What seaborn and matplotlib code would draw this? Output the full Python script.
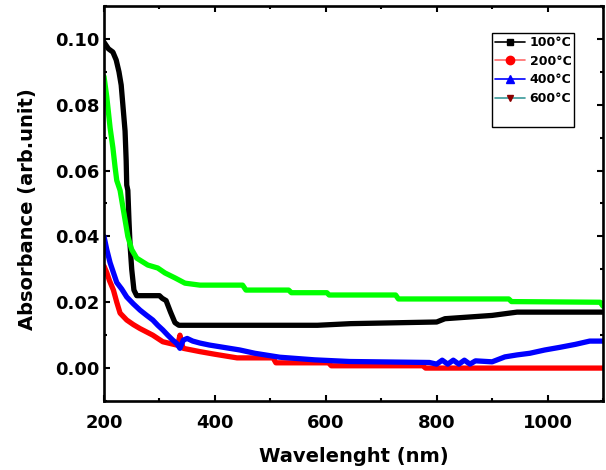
import matplotlib
matplotlib.use("Agg")
import matplotlib.pyplot as plt
from matplotlib.lines import Line2D
from matplotlib.ticker import MultipleLocator, FormatStrFormatter
import seaborn as sns
import pandas as pd

# ---- data ----
labels = ["100°C", "200°C", "400°C", "600°C"]

x100 = [200, 208, 216, 222, 227, 231, 234, 238, 240, 241, 243, 245, 247, 250, 254, 259,
        300, 305, 312, 320, 328, 335, 585, 645, 800, 815, 900, 945, 1100]
y100 = [0.099, 0.097, 0.096, 0.0936, 0.090, 0.086, 0.080, 0.072, 0.063, 0.0556, 0.054, 0.045,
        0.0374, 0.030, 0.0237, 0.022, 0.022, 0.0212, 0.0205, 0.017, 0.0138, 0.013, 0.0130,
        0.0135, 0.0140, 0.0150, 0.0160, 0.0170, 0.0170]

x200 = [200, 205, 210, 217, 223, 229, 241, 253, 265, 288, 306, 331, 335, 337, 340, 343, 373,
        400, 440, 505, 510, 605, 610, 775, 780, 1100]
y200 = [0.031, 0.029, 0.0265, 0.0237, 0.020, 0.0167, 0.0146, 0.0132, 0.012, 0.010, 0.008,
        0.007, 0.0085, 0.0100, 0.0075, 0.006, 0.005, 0.0042, 0.0031, 0.0031, 0.0016, 0.0016,
        0.0007, 0.0007, 0.0, 0.0]

x400 = [200, 205, 211, 217, 223, 232, 241, 253, 265, 277, 288, 297, 306, 315, 324, 331, 337,
        343, 350, 360, 373, 390, 445, 472, 517, 580, 643, 787, 800, 810, 820, 830, 840, 850,
        860, 870, 900, 923, 945, 968, 995, 1022, 1050, 1076, 1100]
y400 = [0.040, 0.036, 0.032, 0.029, 0.026, 0.024, 0.0216, 0.0195, 0.0176, 0.016, 0.0146,
        0.013, 0.0116, 0.010, 0.0085, 0.0075, 0.006, 0.0085, 0.009, 0.0082, 0.0076, 0.007,
        0.0055, 0.0045, 0.0033, 0.0025, 0.002, 0.0017, 0.0012, 0.0024, 0.0012, 0.0024, 0.0012,
        0.0024, 0.0012, 0.0022, 0.0019, 0.0034, 0.004, 0.0045, 0.0055, 0.0063, 0.0072, 0.0082,
        0.0082]

x600 = [200, 205, 211, 216, 220, 223, 229, 236, 243, 250, 259, 279, 297, 310, 328, 346, 373,
        450, 456, 533, 538, 602, 606, 726, 731, 930, 935, 1095, 1100]
y600 = [0.0886, 0.0824, 0.073, 0.067, 0.061, 0.057, 0.054, 0.047, 0.040, 0.036, 0.0334,
        0.0313, 0.0304, 0.0289, 0.0274, 0.0258, 0.0252, 0.0252, 0.0237, 0.0237, 0.0229,
        0.0229, 0.0222, 0.0222, 0.021, 0.021, 0.0202, 0.0200, 0.0188]

series_x = [x100, x200, x400, x600]
series_y = [y100, y200, y400, y600]
line_colors = ["#000000", "#ff0000", "#0000ff", "#00ff00"]

# legend styling (as drawn in the reference legend)
leg_line_colors = ["#000000", "#ff6b6b", "#0000ff", "#3a9a9a"]
leg_marker_colors = ["#000000", "#ff0000", "#0000ff", "#8b0000"]
leg_markers = ["s", "o", "^", "v"]
leg_marker_sizes = [5, 6, 6, 4]

# ---- styling ----
sns.set_style("ticks")
plt.rcParams["font.family"] = ["DejaVu Sans"]
plt.rcParams["font.weight"] = "bold"
plt.rcParams["text.color"] = "black"
plt.rcParams["axes.labelcolor"] = "black"
plt.rcParams["xtick.color"] = "black"
plt.rcParams["ytick.color"] = "black"

fig = plt.figure(figsize=(6.06, 4.70), dpi=100)
ax = fig.add_axes([104 / 606, 1 - 401 / 470, 499 / 606, 395 / 470])

for lab, xs, ys, col in zip(labels, series_x, series_y, line_colors):
    df = pd.DataFrame({"Wavelength": xs, "Absorbance": ys})
    sns.lineplot(data=df, x="Wavelength", y="Absorbance", color=col, lw=3.8,
                 estimator=None, sort=False, ax=ax, legend=False)

ax.set_xlim(200, 1100)
ax.set_ylim(-0.01, 0.11)
ax.xaxis.set_major_locator(MultipleLocator(200))
ax.xaxis.set_minor_locator(MultipleLocator(100))
ax.yaxis.set_major_locator(MultipleLocator(0.02))
ax.yaxis.set_minor_locator(MultipleLocator(0.01))
ax.yaxis.set_major_formatter(FormatStrFormatter("%.2f"))

for sp in ax.spines.values():
    sp.set_linewidth(1.9)
    sp.set_color("black")

ax.tick_params(which="both", direction="in", top=True, right=True, width=1.5, colors="black")
ax.tick_params(which="major", length=4)
ax.tick_params(which="minor", length=2.5)
ax.tick_params(axis="x", which="major", pad=9, labelsize=13)
ax.tick_params(axis="y", which="major", pad=3, labelsize=13)
for t in ax.get_xticklabels() + ax.get_yticklabels():
    t.set_fontweight("bold")
    t.set_color("black")

ax.set_xlabel("Wavelenght (nm)", fontsize=14, fontweight="bold", color="black")
ax.set_ylabel("Absorbance (arb.unit)", fontsize=14, fontweight="bold", color="black")
ax.yaxis.set_label_coords(-0.135, 0.486)
ax.xaxis.set_label_coords(0.5, -0.116)

handles = []
for lc, mc, mk, ms, lab in zip(leg_line_colors, leg_marker_colors, leg_markers,
                               leg_marker_sizes, labels):
    handles.append(Line2D([0], [0], color=lc, lw=1.2, marker=mk, markersize=ms,
                          markerfacecolor=mc, markeredgecolor=mc, label=lab))
handles.append(Line2D([0], [0], color="none", label=" "))
leg = ax.legend(handles=handles, loc="upper left", bbox_to_anchor=(0.7776, 0.9316),
                borderaxespad=0, frameon=True, fancybox=False, framealpha=1,
                edgecolor="black", prop={"weight": "bold", "size": 9},
                handlelength=2.4, handletextpad=0.35, labelspacing=0.45,
                borderpad=0.25, markerscale=1)
leg.get_frame().set_linewidth(1.0)
for t in leg.get_texts():
    t.set_color("black")

fig.savefig("out.png", dpi=100)
